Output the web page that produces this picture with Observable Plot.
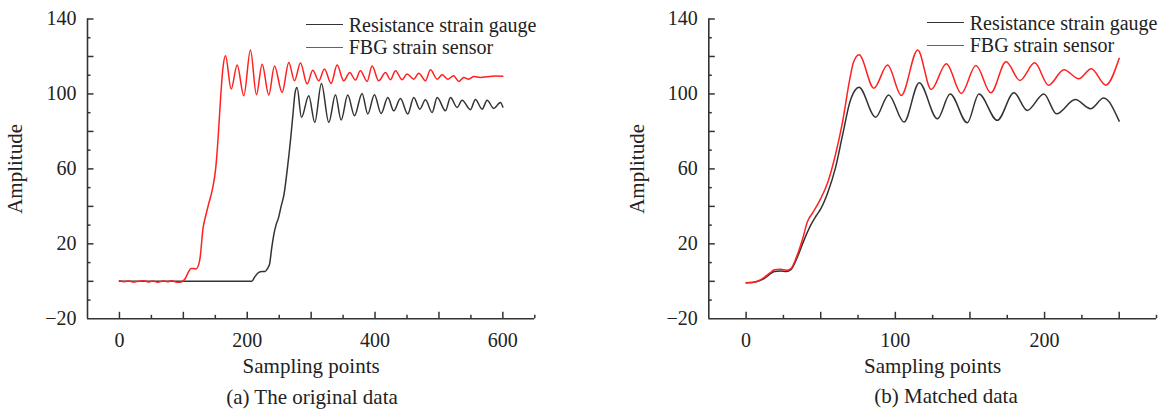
<!DOCTYPE html>
<html><head><meta charset="utf-8">
<script src="https://cdn.jsdelivr.net/npm/d3@7"></script>
<script src="https://cdn.jsdelivr.net/npm/@observablehq/plot@0.6"></script>
<style>
body{margin:0;background:#fff;}
#wrap{position:relative;width:1176px;height:409px;font-family:"Liberation Serif",serif;color:#222;overflow:hidden;}
.panel{position:absolute;top:0;}
.legend{position:absolute;font-size:20px;}
.sw{position:absolute;left:0;width:37px;height:0;border-top:1.6px solid;}
.lgrow{position:absolute;left:43px;height:22px;line-height:22px;white-space:nowrap;}
.cap{position:absolute;font-size:21px;transform:translate(-50%,-50%);white-space:nowrap;}
svg.panel text{font-family:"Times New Roman","Liberation Serif","DejaVu Serif",serif !important;}
</style></head><body><div id="wrap"></div>
<script>
// ---------- series meta ----------
const seriesNames = ["Resistance strain gauge", "FBG strain sensor"];
const seriesColors = ["#333333", "#ff2020"];
const yTitle = "Amplitude";
const xTitle = "Sampling points";
const captions = ["(a) The original data", "(b) Matched data"];
const serif = "Times New Roman, Liberation Serif, DejaVu Serif, serif";

// ---------- panel (a) original data ----------
const aGaugeX = [0,50,100,150,200,207,212,218,223,228,232,235,238,241.8,245,249,253,257.6,263,267.6,271.5,275,278,
  284.8,296.3,305.7,316.1,327.6,338,346.9,357.3,367.8,379.7,388.6,399,409.5,420,429.3,439.7,451.2,460.6,470,478.9,
  489.3,497.2,510.2,518,528.5,536.3,549.3,557,567.6,575.4,585.8,596.2,600];
const aGaugeY = [0,0,0,0,0,0,2.5,4.8,5.3,5.3,7,9.3,17,25.3,30,34,40,46.6,60.8,75,89,101,103.5,
  87.5,99,84.8,105.6,84.8,99.6,86.1,99.4,88.4,100.3,89.3,99.6,89.6,98.1,91,97.6,89.3,98.1,91.9,96.9,
  90.1,98.1,91,98.1,92.8,96.7,91.6,97.1,91.9,96.7,92.3,95.5,93];
const aFbgX = [0,8,15,22,30,38,45,52,60,68,75,82,90,97,103,108,112,116,120,125.5,131,135,139.6,145,150.8,154.8,158,162,166,
  174.8,184.2,194.6,205,214.4,223.3,233.7,242.6,254.6,265,273.9,283.3,293.7,302.6,311.9,320.8,331.3,340.6,351,360.4,
  369.3,377,387.6,395.4,405.8,416.3,424,432,442.4,450,460.6,468.4,478.9,486.7,497.2,505,513.8,523,531,538.8,546.6,
  554.5,565,575.4,588,600];
const aFbgY = [0.3,-0.2,0.2,-0.4,0.1,0.3,-0.3,0.2,-0.5,0.2,-0.2,0.3,-0.5,-0.3,1.5,5,6.8,6.8,6.6,11,28.8,35,41.3,48.4,60.8,78.6,96.4,114,120.4,
  102.6,115.4,99,123.4,99.6,115.9,99.4,114.9,100.8,116.8,107,116.5,105.3,112.7,107,113.3,105.6,115.4,107,111.5,
  107.4,112.4,106.7,114.9,107,111.5,107.6,112.4,107.6,110.6,107.9,111.1,107,112.9,107.9,110.2,107.9,109.7,106.7,108.8,107.9,
  109.3,108.8,109.2,109.6,109.5];

// ---------- panel (b) matched data ----------
const bGaugeX = [0,4,8,12,16,19,23,27,30,34.4,38.8,43.3,47,50,54.8,59.7,64.6,69.5,73,75.6,
  86.8,95.5,105.8,116,128.2,136.7,148.2,156,168.3,179.5,188.4,199.5,208,220.6,230.8,239.6,250];
const bGaugeY = [-0.7,-0.6,0,1.4,3.8,5.3,5.5,5.3,6.2,13,22,30,35,38.7,47.6,60,77.9,95.6,102,103.6,
  87.6,99.5,85,106,86.7,100,84.6,100,85.9,100.6,91.2,100,89.4,97,92.1,97.8,85.5];
const bFbgX = [0,4,8,12,16,19,23,27,30,34,38,41,45,49.9,54.8,59.7,64.6,69.5,72,75.7,
  85.6,94.8,104,115,124,134.2,144.2,154,164,174.2,183.5,193.4,202.6,213,222.9,231.3,241,250];
const bFbgY = [-0.7,-0.6,0.2,2,4.5,6.2,6.4,5.9,6.8,13.5,23,31.6,37,44,53,67,85,108,117,120.9,
  103.1,115.4,99.2,123.5,102.4,116.1,100.3,115.2,100.6,117.2,107.2,116.6,104.7,112.9,108.1,113.4,104.7,119];

// ---------- axes ----------
const yDomain = [-20, 140];
const yLabelTicks = [-20, 20, 60, 100, 140];
const yMajorTicks = [0, 20, 40, 60, 80, 100, 120, 140];
const yMinorTicks = [-10, 10, 30, 50, 70, 90, 110, 130];
const aXDomain = [-50, 650];
const aXLabelTicks = [0, 200, 400, 600];
const aXMajorTicks = [0, 100, 200, 300, 400, 500, 600];
const aXMinorTicks = [50, 150, 250, 350, 450, 550, 650];
const bXDomain = [-25, 275];
const bXLabelTicks = [0, 100, 200];
const bXMajorTicks = [0, 50, 100, 150, 200, 250];
const bXMinorTicks = [25, 75, 125, 175, 225, 275];

const axisColor = "#333";
const fmt = d => d < 0 ? "\u2212" + Math.abs(d) : String(d);

function toRows(xs, ys, s) { return xs.map((x, i) => ({x, y: ys[i], s})); }

function panel(cfg) {
  const data = [
    ...toRows(cfg.gx, cfg.gy, seriesNames[0]),
    ...toRows(cfg.fx, cfg.fy, seriesNames[1])
  ];
  return Plot.plot({
    width: cfg.width, height: 409,
    marginTop: 18.5, marginBottom: 90.7, marginLeft: cfg.ml, marginRight: cfg.mr,
    x: {domain: cfg.xDomain},
    y: {domain: yDomain},
    color: {domain: seriesNames, range: seriesColors},
    style: {fontFamily: serif, fontSize: "20px", color: "#222", background: "transparent", overflow: "visible"},
    marks: [
      Plot.axisY({ticks: yMinorTicks, tickSize: -3.5, tickFormat: () => "", label: null, stroke: axisColor, strokeWidth: 1.5}),
      Plot.axisY({ticks: yMajorTicks, tickSize: -6.5, tickFormat: () => "", label: null, stroke: axisColor, strokeWidth: 1.5}),
      Plot.axisY({ticks: yLabelTicks, tickSize: 0, tickPadding: 11, tickFormat: fmt, label: null, fontSize: 20, fontFamily: serif}),
      Plot.axisY({ticks: [], tickSize: 0, label: yTitle, labelArrow: "none", labelAnchor: "center", labelOffset: 80, fontSize: 21, fontFamily: serif}),
      Plot.axisX({ticks: cfg.xMinor, tickSize: -3.5, tickFormat: () => "", label: null, stroke: axisColor, strokeWidth: 1.5}),
      Plot.axisX({ticks: cfg.xMajor, tickSize: -6.5, tickFormat: () => "", label: null, stroke: axisColor, strokeWidth: 1.5}),
      Plot.axisX({ticks: cfg.xLabels, tickSize: 0, tickPadding: 13.5, tickFormat: fmt, label: null, fontSize: 20, fontFamily: serif}),
      Plot.axisX({ticks: [], tickSize: 0, label: xTitle, labelArrow: "none", labelAnchor: "center", labelOffset: 54, fontSize: 21, fontFamily: serif, dx: cfg.titleDx}),
      Plot.ruleX([cfg.xDomain[0]], {stroke: axisColor, strokeWidth: 1.6}),
      Plot.ruleY([yDomain[0]], {stroke: axisColor, strokeWidth: 1.6}),
      Plot.line(data, {x: "x", y: "y", z: "s", stroke: "s", strokeWidth: 1.5, curve: "monotone-x"})
    ]
  });
}

const wrap = document.getElementById("wrap");
const cfgs = [
  {left: 0, width: 588, ml: 87, mr: 53.7, xDomain: aXDomain, xMajor: aXMajorTicks, xMinor: aXMinorTicks, xLabels: aXLabelTicks,
   gx: aGaugeX, gy: aGaugeY, fx: aFbgX, fy: aFbgY, titleDx: 3,
   legend: {left: 305.7, rows: [25.1, 47.3]}, cap: {x: 312, y: 397}},
  {left: 588, width: 588, ml: 120.3, mr: 20, xDomain: bXDomain, xMajor: bXMajorTicks, xMinor: bXMinorTicks, xLabels: bXLabelTicks,
   gx: bGaugeX, gy: bGaugeY, fx: bFbgX, fy: bFbgY, titleDx: 12,
   legend: {left: 926.7, rows: [23.1, 45.3]}, cap: {x: 946, y: 396}}
];
cfgs.forEach((c, i) => {
  const svg = panel(c);
  svg.classList.add("panel");
  svg.style.left = c.left + "px";
  svg.setAttribute("font-family", serif);
  svg.querySelectorAll("text").forEach(el => el.setAttribute("font-family", serif));
  wrap.appendChild(svg);
  const lg = document.createElement("div");
  lg.className = "legend";
  lg.style.left = c.legend.left + "px";
  lg.style.top = "0px";
  c.legend.rows.forEach((ly, k) => {
    const sw = document.createElement("div");
    sw.className = "sw";
    sw.style.borderTopColor = seriesColors[k];
    sw.style.top = (ly - 0.8) + "px";
    lg.appendChild(sw);
    const t = document.createElement("div");
    t.className = "lgrow";
    t.style.top = (ly - 11) + "px";
    t.textContent = seriesNames[k];
    lg.appendChild(t);
  });
  wrap.appendChild(lg);
  const cap = document.createElement("div");
  cap.className = "cap";
  cap.style.left = c.cap.x + "px";
  cap.style.top = c.cap.y + "px";
  cap.textContent = captions[i];
  wrap.appendChild(cap);
});
</script>
</body></html>
